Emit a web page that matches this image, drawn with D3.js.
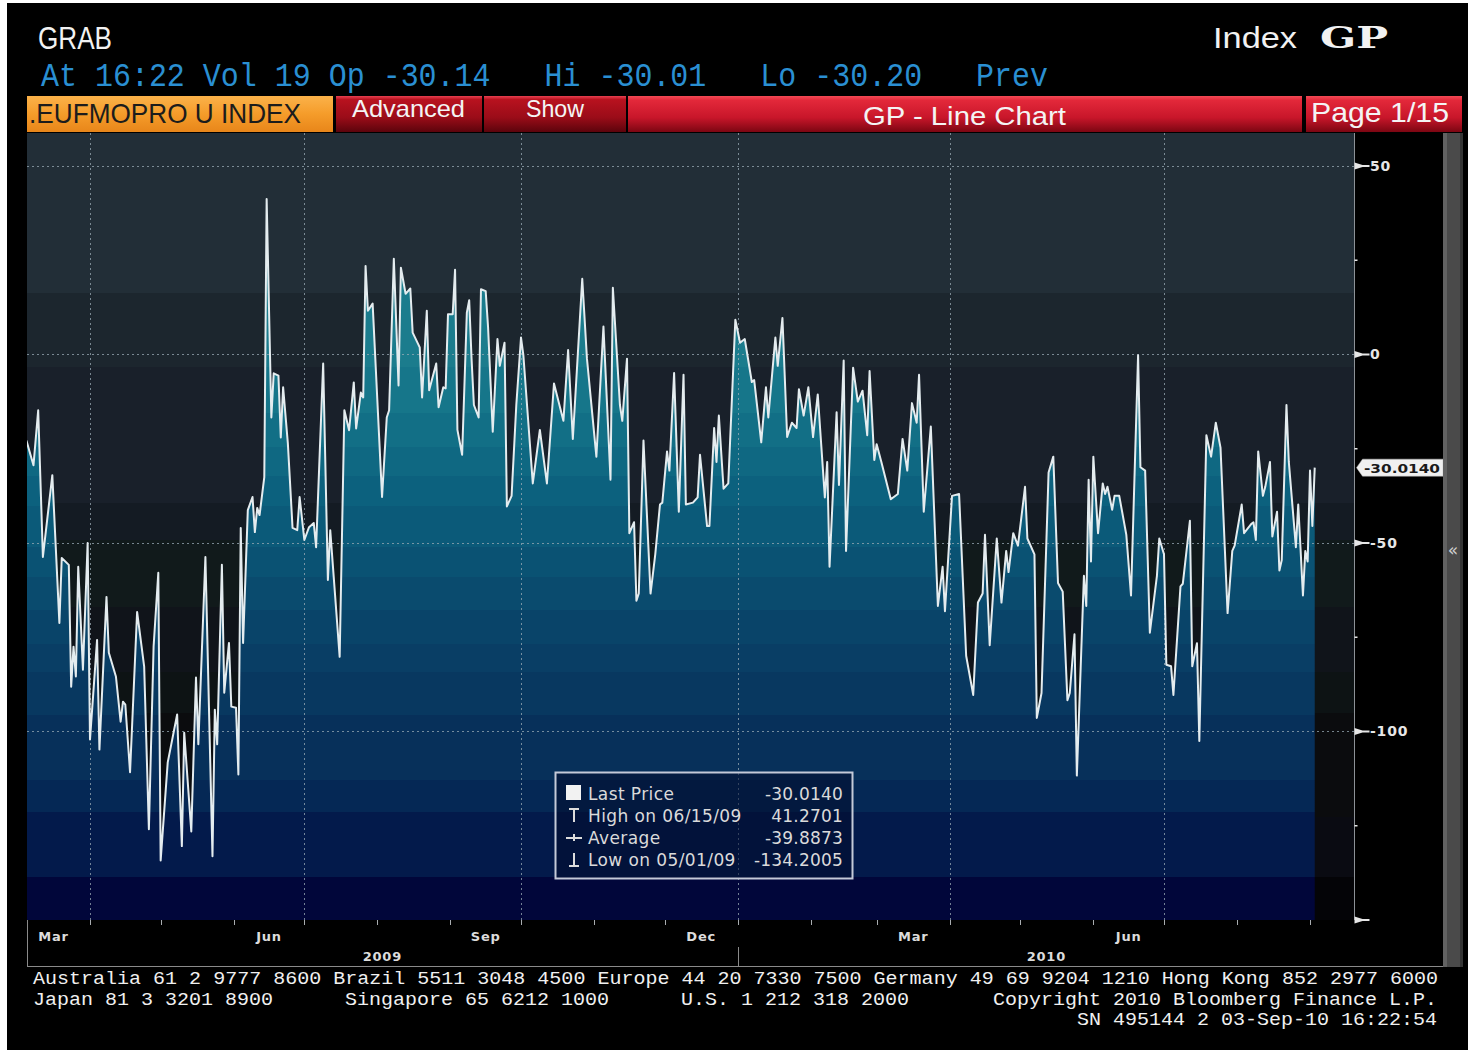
<!DOCTYPE html>
<html>
<head>
<meta charset="utf-8">
<script src="https://cdn.jsdelivr.net/npm/d3@7"></script>
<style>
  body { margin: 0; background: #fff; }
  svg { display: block; }
  .pre { white-space: pre; }
</style>
</head>
<body>
<svg id="chart" width="1470" height="1053"></svg>
<script>
// ---- data ----
const dates = [
  '2009-03-05','2009-03-08','2009-03-10','2009-03-12','2009-03-16','2009-03-19','2009-03-20','2009-03-23','2009-03-24','2009-03-25',
  '2009-03-26','2009-03-27','2009-03-29','2009-03-31','2009-04-01','2009-04-04','2009-04-05','2009-04-08','2009-04-09','2009-04-12',
  '2009-04-14','2009-04-15','2009-04-16','2009-04-18','2009-04-21','2009-04-24','2009-04-26','2009-04-28','2009-04-30','2009-05-01',
  '2009-05-04','2009-05-08','2009-05-10','2009-05-11','2009-05-14','2009-05-16','2009-05-17','2009-05-20','2009-05-23','2009-05-24',
  '2009-05-25','2009-05-27','2009-05-28','2009-05-30','2009-05-31','2009-06-02','2009-06-03','2009-06-04','2009-06-05','2009-06-07',
  '2009-06-09','2009-06-10','2009-06-11','2009-06-12','2009-06-14','2009-06-15','2009-06-17','2009-06-18','2009-06-20','2009-06-21',
  '2009-06-22','2009-06-24','2009-06-26','2009-06-28','2009-06-29','2009-07-01','2009-07-03','2009-07-05','2009-07-06','2009-07-09',
  '2009-07-11','2009-07-12','2009-07-16','2009-07-18','2009-07-20','2009-07-22','2009-07-23','2009-07-25','2009-07-26','2009-07-27',
  '2009-07-28','2009-07-30','2009-08-03','2009-08-05','2009-08-06','2009-08-08','2009-08-10','2009-08-11','2009-08-13','2009-08-15',
  '2009-08-16','2009-08-19','2009-08-20','2009-08-22','2009-08-23','2009-08-26','2009-08-27','2009-08-29','2009-08-30','2009-08-31',
  '2009-09-02','2009-09-03','2009-09-04','2009-09-06','2009-09-08','2009-09-09','2009-09-10','2009-09-11','2009-09-13','2009-09-14',
  '2009-09-16','2009-09-17','2009-09-19','2009-09-21','2009-09-22','2009-09-24','2009-09-25','2009-09-27','2009-09-29','2009-10-01',
  '2009-10-02','2009-10-06','2009-10-09','2009-10-12','2009-10-15','2009-10-19','2009-10-21','2009-10-23','2009-10-27','2009-10-29',
  '2009-11-02','2009-11-05','2009-11-08','2009-11-09','2009-11-12','2009-11-13','2009-11-15','2009-11-16','2009-11-18','2009-11-19',
  '2009-11-20','2009-11-22','2009-11-25','2009-11-27','2009-11-29','2009-11-30','2009-12-02','2009-12-03','2009-12-05','2009-12-07',
  '2009-12-09','2009-12-10','2009-12-13','2009-12-15','2009-12-16','2009-12-19','2009-12-20','2009-12-22','2009-12-23','2009-12-24',
  '2009-12-26','2009-12-28','2009-12-31','2010-01-02','2010-01-04','2010-01-07','2010-01-08','2010-01-11','2010-01-13','2010-01-14',
  '2010-01-17','2010-01-18','2010-01-20','2010-01-22','2010-01-24','2010-01-26','2010-01-27','2010-01-29','2010-01-31','2010-02-02',
  '2010-02-04','2010-02-07','2010-02-08','2010-02-09','2010-02-12','2010-02-13','2010-02-15','2010-02-16','2010-02-19','2010-02-21',
  '2010-02-23','2010-02-25','2010-02-26','2010-02-28','2010-03-01','2010-03-03','2010-03-07','2010-03-10','2010-03-12','2010-03-14',
  '2010-03-16','2010-03-18','2010-03-19','2010-03-21','2010-03-24','2010-03-27','2010-03-29','2010-03-30','2010-04-02','2010-04-05',
  '2010-04-08','2010-04-11','2010-04-13','2010-04-15','2010-04-16','2010-04-18','2010-04-21','2010-04-23','2010-04-25','2010-04-26',
  '2010-04-28','2010-04-30','2010-05-03','2010-05-04','2010-05-07','2010-05-08','2010-05-10','2010-05-13','2010-05-15','2010-05-17',
  '2010-05-19','2010-05-21','2010-05-22','2010-05-24','2010-05-25','2010-05-28','2010-05-29','2010-05-30','2010-05-31','2010-06-01',
  '2010-06-03','2010-06-05','2010-06-06','2010-06-07','2010-06-09','2010-06-10','2010-06-12','2010-06-15','2010-06-17','2010-06-20',
  '2010-06-21','2010-06-23','2010-06-25','2010-06-28','2010-06-29','2010-07-01','2010-07-02','2010-07-04','2010-07-05','2010-07-08',
  '2010-07-09','2010-07-12','2010-07-13','2010-07-15','2010-07-16','2010-07-19','2010-07-21','2010-07-23','2010-07-25','2010-07-28',
  '2010-07-30','2010-07-31','2010-08-03','2010-08-04','2010-08-07','2010-08-08','2010-08-09','2010-08-10','2010-08-12','2010-08-13',
  '2010-08-15','2010-08-16','2010-08-18','2010-08-19','2010-08-20','2010-08-22','2010-08-23','2010-08-26','2010-08-27','2010-08-29',
  '2010-08-30','2010-08-31','2010-09-01','2010-09-02','2010-09-03'
];
const values = [
  -22.8, -29.4, -14.8, -53.7, -32.0, -71.2, -54.0, -55.8, -88.1, -77.5,
  -85.4, -56.3, -83.6, -50.0, -102.1, -75.7, -104.8, -64.3, -79.1, -85.4,
  -97.4, -92.1, -92.9, -110.8, -68.3, -82.8, -125.9, -77.5, -57.9, -134.2005,
  -108.2, -95.5, -130.4, -100.3, -126.5, -85.7, -103.4, -53.7, -133.1, -94.2,
  -103.4, -55.8, -89.7, -76.5, -93.4, -93.7, -111.4, -46.0, -76.5, -41.3,
  -37.8, -47.1, -40.7, -42.6, -32.5, 41.2701, -16.7, -5.0, -5.6, -22.0,
  -8.7, -23.5, -46.0, -46.6, -37.8, -49.2, -45.8, -44.7, -51.1, -2.4,
  -59.8, -46.6, -80.2, -14.8, -20.1, -7.4, -19.6, -10.1, -11.4, 23.5,
  11.6, 13.5, -37.8, -16.7, -14.8, 25.4, -8.2, 23.0, 16.1, 17.5,
  5.8, 1.9, -11.4, 11.6, -9.5, -2.4, -14.0, -8.7, -9.0, 10.7,
  10.7, 22.5, -20.0, -26.6, 11.1, 14.4, -1.1, -13.4, -16.7, 17.3,
  16.8, 7.4, -20.5, 4.1, -3.0, 3.1, -40.3, -37.5, -13.4, 4.5,
  -0.2, -34.2, -20.0, -34.2, -7.7, -17.6, 1.2, -22.4, 20.1, -1.1,
  -27.1, 7.4, -33.2, 17.7, -13.4, -17.6, -1.1, -47.4, -44.5, -65.3,
  -63.4, -22.8, -63.4, -53.0, -39.8, -39.3, -25.7, -30.8, -4.9, -41.7,
  -5.4, -39.8, -39.3, -37.9, -26.6, -45.5, -45.5, -19.5, -28.5, -16.2,
  -35.6, -34.2, 9.2, 3.1, 4.1, -7.3, -6.8, -23.3, -8.7, -16.7,
  4.5, -3.0, 9.7, -21.9, -18.1, -19.5, -9.2, -16.2, -8.7, -21.9,
  -10.6, -37.9, -28.5, -56.3, -15.3, -34.6, -1.6, -52.1, -3.5, -12.5,
  -9.6, -21.4, -4.4, -28.0, -23.8, -28.5, -38.4, -37.0, -22.4, -30.8,
  -12.9, -18.1, -5.4, -41.7, -19.1, -66.7, -56.3, -68.1, -37.5, -37.0,
  -79.9, -90.3, -65.8, -63.4, -47.8, -77.1, -48.8, -65.8, -52.1, -57.7,
  -47.4, -50.7, -35.1, -48.8, -53.0, -96.4, -89.8, -31.3, -27.1, -60.6,
  -62.9, -91.7, -89.8, -74.2, -111.7, -58.7, -66.7, -33.2, -54.9, -27.1,
  -47.4, -34.2, -37.0, -35.1, -41.2, -37.5, -37.5, -47.8, -63.9, -0.2,
  -29.9, -30.8, -73.8, -58.7, -48.8, -53.0, -82.3, -82.7, -90.3, -61.5,
  -60.8, -44.1, -82.7, -76.6, -102.5, -21.4, -27.1, -18.1, -24.7, -68.6,
  -52.1, -50.7, -39.8, -47.4, -45.0, -44.5, -49.2, -25.7, -37.5, -35.1,
  -28.5, -48.3, -41.7, -57.3, -54.5, -13.4, -28.5, -51.1, -39.8, -63.9,
  -52.1, -54.9, -30.8, -45.5, -30.014
];

const xDomain = ['2009-03-05T06:00', '2010-09-20T02:24'];
const yDomain = [-150, 58.75];
const yMajorTicks = [50, 0, -50, -100];
const yMinorTicks = [25, -25, -75, -125];
const quarterMonths = ['2009-03', '2009-06', '2009-09', '2009-12', '2010-03', '2010-06'];
const quarterLabels = ['Mar', 'Jun', 'Sep', 'Dec', 'Mar', 'Jun'];
const gridMonths = ['2009-04', '2009-07', '2009-10', '2010-01', '2010-04', '2010-07'];
const yearLabels = ['2009', '2010'];
const lastPrice = '-30.0140';
const legendNames = ['Last Price', 'High on 06/15/09', 'Average', 'Low on 05/01/09'];
const legendValues = ['-30.0140', '41.2701', '-39.8873', '-134.2005'];
const footerLines = [
  'Australia 61 2 9777 8600 Brazil 5511 3048 4500 Europe 44 20 7330 7500 Germany 49 69 9204 1210 Hong Kong 852 2977 6000',
  'Japan 81 3 3201 8900      Singapore 65 6212 1000      U.S. 1 212 318 2000       Copyright 2010 Bloomberg Finance L.P.',
  'SN 495144 2 03-Sep-10 16:22:54',
];

// ---- layout / style ----
const plot = {left: 27, right: 1355, top: 133, bottom: 920};
const bgBands = [
  [133, '#222e37'], [293, '#1c262e'], [367, '#19202a'], [503, '#141b23'], [540, '#111a1b'],
  [607, '#10141a'], [672, '#0d1314'], [713, '#0b0c0e'], [817, '#0a0b12'], [877, '#040407'],
];
const fillBands = [
  [133, '#1f8191'], [293, '#1b7c8d'], [367, '#16768a'], [413, '#126f86'], [447, '#0f6882'],
  [476, '#0c617e'], [506, '#0b5a79'], [547, '#0a5273'], [577, '#0a4b6e'], [610, '#094469'],
  [644, '#093e65'], [672, '#083860'], [715, '#07305a'], [780, '#052855'], [812, '#031a4b'], [877, '#01063a'],
];

const parseDay = d3.utcParse('%Y-%m-%d');
const parseMonth = d3.utcParse('%Y-%m');
const parseStamp = d3.utcParse('%Y-%m-%dT%H:%M');
const series = dates.map((d, i) => ({date: parseDay(d), value: values[i]}));

const x = d3.scaleUtc().domain(xDomain.map(parseStamp)).range([plot.left, plot.right]);
const y = d3.scaleLinear().domain(yDomain).range([plot.bottom, plot.top]);

const svg = d3.select('#chart');
const defs = svg.append('defs');

function bandGradient(id, bands) {
  const span = plot.bottom - plot.top;
  const g = defs.append('linearGradient').attr('id', id)
    .attr('gradientUnits', 'userSpaceOnUse')
    .attr('x1', 0).attr('x2', 0).attr('y1', plot.top).attr('y2', plot.bottom);
  bands.forEach((b, i) => {
    const start = (b[0] - plot.top) / span;
    const end = i < bands.length - 1 ? (bands[i + 1][0] - plot.top) / span : 1;
    g.append('stop').attr('offset', start).attr('stop-color', b[1]);
    g.append('stop').attr('offset', end).attr('stop-color', b[1]);
  });
}
bandGradient('bgGrad', bgBands);
bandGradient('fillGrad', fillBands);

function vGrad(id, stops) {
  const g = defs.append('linearGradient').attr('id', id).attr('x1', 0).attr('x2', 0).attr('y1', 0).attr('y2', 1);
  stops.forEach((s) => g.append('stop').attr('offset', s[0]).attr('stop-color', s[1]));
}
vGrad('orangeTab', [[0, '#fbb24a'], [0.5, '#f59c2a'], [1, '#e8861a']]);
vGrad('redTab', [[0, '#f24a55'], [0.12, '#e3283a'], [0.6, '#c8162a'], [1, '#7c0612']]);
vGrad('darkRedTab', [[0, '#e84050'], [0.1, '#b8121f'], [0.6, '#9a0c18'], [1, '#5c040c']]);

defs.append('clipPath').attr('id', 'plotClip')
  .append('rect')
  .attr('x', plot.left).attr('y', plot.top)
  .attr('width', plot.right - plot.left).attr('height', plot.bottom - plot.top);

// Screen background
svg.append('rect').attr('x', 7).attr('y', 3).attr('width', 1461).attr('height', 1047).attr('fill', '#000');

// Header
svg.append('text').attr('x', 38).attr('y', 49)
  .attr('font-family', 'Liberation Sans, Arial, sans-serif').attr('font-size', 31)
  .attr('fill', '#f2f2f2').attr('textLength', 74).attr('lengthAdjust', 'spacingAndGlyphs')
  .text('GRAB');
svg.append('text').attr('x', 1213).attr('y', 48)
  .attr('font-family', 'Liberation Sans, Arial, sans-serif').attr('font-size', 30)
  .attr('fill', '#f2f2f2').attr('textLength', 84).attr('lengthAdjust', 'spacingAndGlyphs')
  .text('Index');
svg.append('text').attr('x', 1320).attr('y', 48)
  .attr('font-family', 'DejaVu Serif, serif').attr('font-size', 30).attr('font-weight', 'bold')
  .attr('fill', '#f2f2f2').attr('textLength', 68).attr('lengthAdjust', 'spacingAndGlyphs')
  .text('GP');
svg.append('text').attr('class', 'pre').attr('x', 41).attr('y', 86)
  .attr('font-family', 'Liberation Mono, DejaVu Sans Mono, monospace').attr('font-size', 34)
  .attr('fill', '#2a8fd2').attr('textLength', 1007).attr('lengthAdjust', 'spacingAndGlyphs')
  .text('At 16:22 Vol 19 Op -30.14   Hi -30.01   Lo -30.20   Prev');

// Tab bar
const tabs = [
  {x: 27, w: 306, fill: 'url(#orangeTab)'},
  {x: 336, w: 146, fill: 'url(#darkRedTab)'},
  {x: 484, w: 142, fill: 'url(#darkRedTab)'},
  {x: 628, w: 674, fill: 'url(#redTab)'},
  {x: 1306, w: 156, fill: 'url(#redTab)'},
];
svg.append('g').selectAll('rect').data(tabs).join('rect')
  .attr('x', (d) => d.x).attr('y', 96).attr('width', (d) => d.w).attr('height', 36)
  .attr('fill', (d) => d.fill);
const tabTexts = [
  {t: '.EUFMOPRO U INDEX', x: 29, y: 123, w: 272, size: 28, color: '#1c1c1c'},
  {t: 'Advanced', x: 352, y: 117, w: 113, size: 24, color: '#f4f4f4'},
  {t: 'Show', x: 526, y: 117, w: 58, size: 24, color: '#f4f4f4'},
  {t: 'GP - Line Chart', x: 863, y: 125, w: 203, size: 26, color: '#f4f4f4'},
  {t: 'Page 1/15', x: 1311, y: 122, w: 138, size: 28, color: '#f4f4f4'},
];
svg.append('g').selectAll('text').data(tabTexts).join('text')
  .attr('x', (d) => d.x).attr('y', (d) => d.y)
  .attr('font-family', 'Liberation Sans, Arial, sans-serif').attr('font-size', (d) => d.size)
  .attr('fill', (d) => d.color)
  .attr('textLength', (d) => d.w).attr('lengthAdjust', 'spacingAndGlyphs')
  .text((d) => d.t);

// Plot background
svg.append('rect')
  .attr('x', plot.left).attr('y', plot.top)
  .attr('width', plot.right - plot.left).attr('height', plot.bottom - plot.top)
  .attr('fill', 'url(#bgGrad)');

const chartG = svg.append('g').attr('clip-path', 'url(#plotClip)');

// Area
chartG.append('path').datum(series)
  .attr('fill', 'url(#fillGrad)')
  .attr('d', d3.area()
    .x((d) => x(d.date))
    .y0(y(yDomain[0]))
    .y1((d) => y(d.value)));

// Grid lines
const gridStyle = (sel) => sel.attr('stroke', '#9aabb6').attr('stroke-opacity', 0.75)
  .attr('stroke-width', 1).attr('stroke-dasharray', '2,3');
chartG.append('g').selectAll('line').data(yMajorTicks.concat([yDomain[0]])).join('line')
  .attr('x1', plot.left).attr('x2', plot.right)
  .attr('y1', (d) => Math.round(y(d)) + 0.5).attr('y2', (d) => Math.round(y(d)) + 0.5)
  .call(gridStyle);
chartG.append('g').selectAll('line').data(gridMonths.map(parseMonth)).join('line')
  .attr('x1', (d) => Math.round(x(d)) + 0.5).attr('x2', (d) => Math.round(x(d)) + 0.5)
  .attr('y1', plot.top).attr('y2', plot.bottom)
  .call(gridStyle);

// Price line
chartG.append('path').datum(series)
  .attr('fill', 'none')
  .attr('stroke', '#e4ecef')
  .attr('stroke-width', 2)
  .attr('stroke-linejoin', 'round')
  .attr('d', d3.line().x((d) => x(d.date)).y((d) => y(d.value)));

// Legend
const lg = svg.append('g');
lg.append('rect').attr('x', 555.5).attr('y', 772.5).attr('width', 297).attr('height', 106)
  .attr('fill', 'rgba(2,12,45,0.55)').attr('stroke', '#c4cad8').attr('stroke-width', 2);
const rowY = (i) => 800 + i * 22;
lg.append('rect').attr('x', 566).attr('y', 785).attr('width', 15).attr('height', 15).attr('fill', '#f2f2f2');
const sym = lg.append('g').attr('stroke', '#dcdcdc').attr('stroke-width', 2).attr('fill', 'none');
sym.append('path').attr('d', `M569,${rowY(1) - 13}H579M574,${rowY(1) - 13}V${rowY(1)}`);
sym.append('path').attr('d', `M566,${rowY(2) - 6}H582M574,${rowY(2) - 10}V${rowY(2) - 3}`);
sym.append('path').attr('d', `M569,${rowY(3)}H579M574,${rowY(3) - 13}V${rowY(3)}`);
lg.selectAll('text.name').data(legendNames).join('text')
  .attr('class', 'name')
  .attr('x', 588).attr('y', (d, i) => rowY(i))
  .attr('font-family', 'DejaVu Sans, sans-serif').attr('font-size', 17)
  .attr('letter-spacing', 0.4).attr('fill', '#dadada')
  .text((d) => d);
lg.selectAll('text.val').data(legendValues).join('text')
  .attr('class', 'val')
  .attr('x', 843).attr('y', (d, i) => rowY(i))
  .attr('text-anchor', 'end')
  .attr('font-family', 'DejaVu Sans, sans-serif').attr('font-size', 17)
  .attr('letter-spacing', 0.2).attr('fill', '#dadada')
  .text((d) => d);

// Y axis (right)
const ax = plot.right - 0.5;
svg.append('line').attr('x1', ax).attr('x2', ax).attr('y1', plot.top).attr('y2', plot.bottom)
  .attr('stroke', '#8c9196').attr('stroke-width', 1);
const pennant = (yy) => `M${ax},${yy - 3.5}L${ax + 8},${yy - 0.9}H${ax + 15}V${yy + 0.9}H${ax + 8}L${ax},${yy + 3.5}Z`;
svg.append('g').selectAll('path').data(yMajorTicks.concat([yDomain[0]])).join('path')
  .attr('d', (d) => pennant(y(d)))
  .attr('fill', '#e6e6e6');
svg.append('g').selectAll('line').data(yMinorTicks).join('line')
  .attr('x1', ax).attr('x2', ax + 3)
  .attr('y1', (d) => y(d)).attr('y2', (d) => y(d))
  .attr('stroke', '#e6e6e6').attr('stroke-width', 1.5);
svg.append('g').selectAll('text').data(yMajorTicks).join('text')
  .attr('x', 1370).attr('y', (d) => y(d) + 5)
  .attr('font-family', 'DejaVu Sans, sans-serif').attr('font-weight', 'bold').attr('font-size', 14)
  .attr('letter-spacing', 0.8).attr('fill', '#e6e6e6')
  .text((d) => d);

// Last price tag
const lpY = y(+lastPrice);
svg.append('path')
  .attr('d', `M${ax + 2},${lpY}L${ax + 8},${lpY - 8.5}H1443V${lpY + 8.5}H${ax + 8}Z`)
  .attr('fill', '#f0f0f0').attr('stroke', '#bbb').attr('stroke-width', 0.5);
svg.append('text').attr('x', 1364).attr('y', lpY + 5)
  .attr('font-family', 'DejaVu Sans, sans-serif').attr('font-weight', 'bold').attr('font-size', 13)
  .attr('fill', '#1a1a1a').attr('textLength', 76).attr('lengthAdjust', 'spacingAndGlyphs')
  .text(lastPrice);

// X axis
const monthTicks = d3.utcMonth.range(x.domain()[0], x.domain()[1]);
svg.append('g').selectAll('line').data(monthTicks).join('line')
  .attr('x1', (d) => Math.round(x(d)) + 0.5).attr('x2', (d) => Math.round(x(d)) + 0.5)
  .attr('y1', plot.bottom).attr('y2', plot.bottom + 5)
  .attr('stroke', '#a8acb0').attr('stroke-width', 1);
svg.append('g').selectAll('text').data(quarterMonths).join('text')
  .attr('x', (d) => {
    const m0 = parseMonth(d);
    return (x(m0) + x(d3.utcMonth.offset(m0, 1))) / 2;
  })
  .attr('y', 941)
  .attr('text-anchor', 'middle')
  .attr('font-family', 'DejaVu Sans, sans-serif').attr('font-weight', 'bold').attr('font-size', 13)
  .attr('letter-spacing', 0.8).attr('fill', '#dcdcdc')
  .text((d, i) => quarterLabels[i]);
const yearStart = parseMonth('2010-01');
svg.append('g').selectAll('text').data(yearLabels).join('text')
  .attr('x', (d, i) => (i === 0 ? (plot.left + x(yearStart)) / 2 : (x(yearStart) + plot.right) / 2))
  .attr('y', 961)
  .attr('text-anchor', 'middle')
  .attr('font-family', 'DejaVu Sans, sans-serif').attr('font-weight', 'bold').attr('font-size', 13)
  .attr('letter-spacing', 0.8).attr('fill', '#dcdcdc')
  .text((d) => d);
const frame = svg.append('g').attr('stroke', '#8a8a8a').attr('stroke-width', 1);
frame.append('line').attr('x1', Math.round(x(yearStart)) + 0.5).attr('x2', Math.round(x(yearStart)) + 0.5)
  .attr('y1', 947).attr('y2', 966);
frame.append('line').attr('x1', plot.left).attr('x2', 1443).attr('y1', 966.5).attr('y2', 966.5);
frame.append('line').attr('x1', plot.left + 0.5).attr('x2', plot.left + 0.5).attr('y1', plot.bottom).attr('y2', 966);

// Scrollbar
svg.append('rect').attr('x', 1443).attr('y', plot.top).attr('width', 20).attr('height', 834).attr('fill', '#4a4a4a');
svg.append('rect').attr('x', 1443).attr('y', plot.top).attr('width', 4).attr('height', 834).attr('fill', '#626262');
svg.append('rect').attr('x', 1460).attr('y', plot.top).attr('width', 3).attr('height', 834).attr('fill', '#353535');
svg.append('text').attr('x', 1453).attr('y', 556).attr('text-anchor', 'middle')
  .attr('font-family', 'DejaVu Sans, sans-serif').attr('font-size', 17).attr('fill', '#cfcfcf')
  .text('«');

// Footer
const footer = svg.append('g')
  .attr('font-family', 'Liberation Mono, DejaVu Sans Mono, monospace').attr('font-size', 19)
  .attr('fill', '#f0f0f0');
footer.append('text').attr('class', 'pre').attr('x', 33).attr('y', 984)
  .attr('textLength', 1405).attr('lengthAdjust', 'spacingAndGlyphs').text(footerLines[0]);
footer.append('text').attr('class', 'pre').attr('x', 33).attr('y', 1005)
  .attr('textLength', 1404).attr('lengthAdjust', 'spacingAndGlyphs').text(footerLines[1]);
footer.append('text').attr('class', 'pre').attr('x', 1077).attr('y', 1025)
  .attr('textLength', 360).attr('lengthAdjust', 'spacingAndGlyphs').text(footerLines[2]);
</script>
</body>
</html>
